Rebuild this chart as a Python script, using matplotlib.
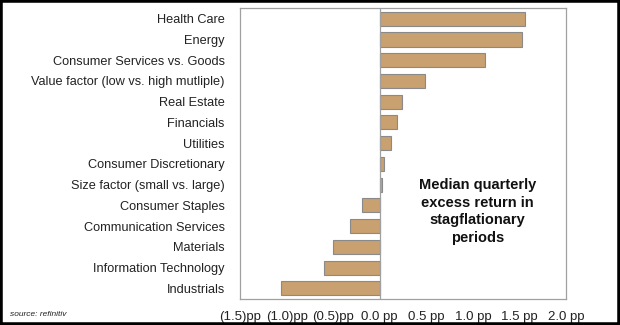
import matplotlib
matplotlib.use("Agg")
import matplotlib.pyplot as plt
from matplotlib.patches import Rectangle

categories = ["Health Care", "Energy", "Consumer Services vs. Goods",
              "Value factor (low vs. high mutliple)", "Real Estate", "Financials",
              "Utilities", "Consumer Discretionary", "Size factor (small vs. large)",
              "Consumer Staples", "Communication Services", "Materials",
              "Information Technology", "Industrials"]
values = [1.56, 1.53, 1.135, 0.49, 0.24, 0.19, 0.117, 0.05, 0.028,
          -0.19, -0.315, -0.50, -0.60, -1.06]
tick_vals = [-1.5, -1.0, -0.5, 0.0, 0.5, 1.0, 1.5, 2.0]
tick_labels = ["(1.5)pp", "(1.0)pp", "(0.5)pp", "0.0 pp", "0.5 pp", "1.0 pp", "1.5 pp", "2.0 pp"]

plt.rcParams['font.family'] = ['Liberation Sans', 'DejaVu Sans']

fig = plt.figure(figsize=(6.2, 3.25), dpi=100)
ax = fig.add_axes([240/620, 1-298.7/325, (566-240)/620, (298.7-8.4)/325])

y = list(range(len(categories)))
ax.barh(y, values, height=0.68, color="#C9A06F", edgecolor="#8a8a8a", linewidth=0.8, zorder=2)
ax.axvline(0, color="#a0a0a0", linewidth=0.9, zorder=3)
ax.set_xlim(-1.5, 2.0)
ax.set_ylim(len(categories) - 0.5, -0.5)
ax.set_yticks(y)
ax.set_yticklabels(categories, fontsize=9.2, color="#222222")
ax.set_xticks(tick_vals)
ax.set_xticklabels(tick_labels, fontsize=9.5, color="#222222")
ax.tick_params(axis="both", length=0)
ax.tick_params(axis="y", pad=11)
ax.tick_params(axis="x", pad=9)
for s in ax.spines.values():
    s.set_color("#a0a0a0")
    s.set_linewidth(0.9)

ax.text(1.05, 9.3, "Median quarterly\nexcess return in\nstagflationary\nperiods",
        ha="center", va="center", fontsize=10.5, fontweight="bold", color="#111111",
        linespacing=1.32)

fig.text(10/620, 1-315/325, "source: refinitiv", fontsize=6, style="italic",
         color="#222222", va="center", ha="left")

fig.patches.append(Rectangle((0, 0), 1, 1, transform=fig.transFigure, fill=False,
                             edgecolor="black", linewidth=4, zorder=10))

fig.savefig("out.png", dpi=100)
